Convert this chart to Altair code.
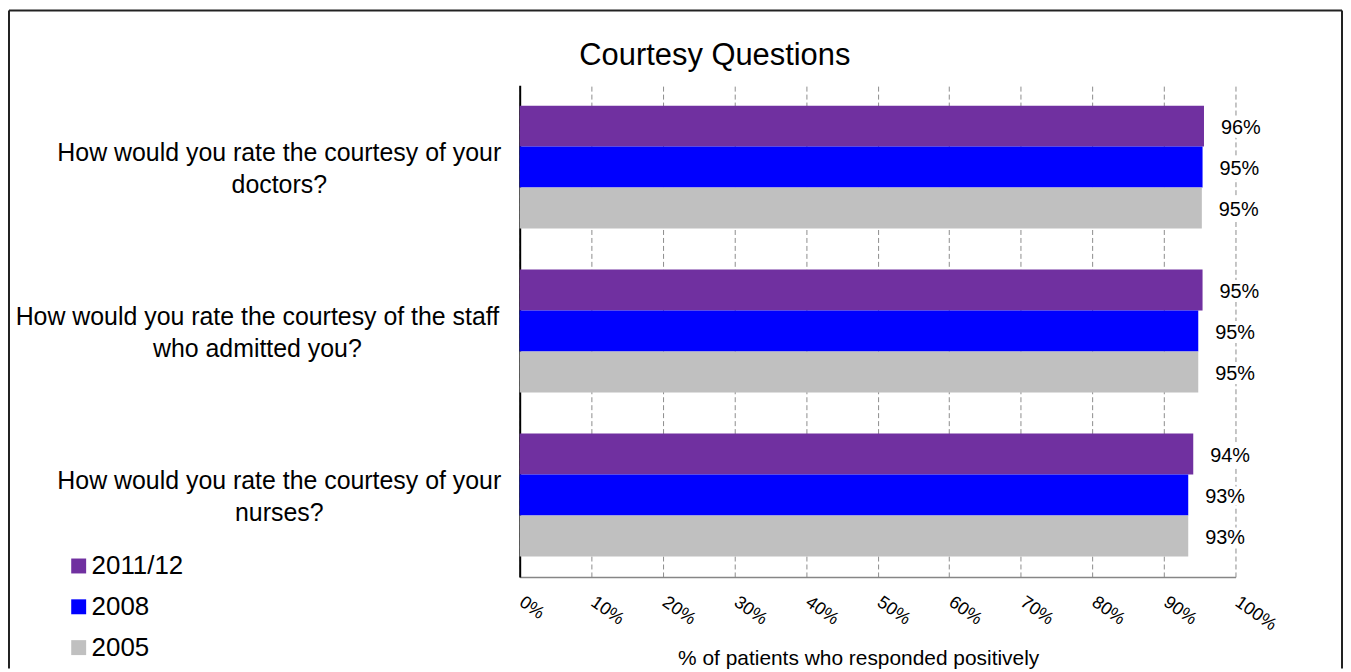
import altair as alt
import pandas as pd

questions = [
    "How would you rate the courtesy of your\ndoctors?",
    "How would you rate the courtesy of the staff\nwho admitted you?",
    "How would you rate the courtesy of your\nnurses?",
]
years = ["2011/12", "2008", "2005"]
colors = ["#7030A0", "#0000FF", "#C0C0C0"]
values_2011 = [95.6, 95.4, 94.1]
values_2008 = [95.4, 94.8, 93.4]
values_2005 = [95.3, 94.8, 93.4]
x_ticks = [0, 10, 20, 30, 40, 50, 60, 70, 80, 90, 100]
chart_title = "Courtesy Questions"

rows = []
for yr, vals in zip(years, [values_2011, values_2008, values_2005]):
    for q, v in zip(questions, vals):
        rows.append({"question": q, "year": yr, "value": v})
df = pd.DataFrame(rows)

FONT = "Liberation Sans"

y_enc = alt.Y(
    "question:N",
    sort=questions,
    title=None,
    scale=alt.Scale(paddingInner=0.25, paddingOuter=0.125),
    axis=alt.Axis(
        labelExpr="split(datum.label, '\\n')",
        labelAlign="center",
        labelBaseline="middle",
        labelFontSize=25,
        labelLineHeight=32,
        labelLimit=700,
        labelColor="black",
        labelOffset=-14,
        labelPadding={"condition": {"test": "indexof(datum.value, 'staff') >= 0", "value": 264}, "value": 242},
        ticks=False,
        tickSize=0,
        domainColor="black",
        domainWidth=2,
        grid=False,
    ),
)
yoff_enc = alt.YOffset("year:N", sort=years, scale=alt.Scale(paddingInner=0, paddingOuter=0))
x_enc = alt.X(
    "value:Q",
    title="% of patients who responded positively",
    scale=alt.Scale(domain=[0, 100], nice=False),
    axis=alt.Axis(
        values=x_ticks,
        labelExpr="datum.value + '%'",
        labelAngle=35,
        labelAlign="left",
        labelBaseline="top",
        labelPadding=16,
        labelOffset=6,
        labelFontSize=18,
        labelColor="black",
        labelFlush=False,
        labelOverlap=False,
        ticks=False,
        domainColor="#868686",
        domainWidth=1.5,
        grid=True,
        gridColor="#8c8c8c",
        gridDash=[5, 3],
        gridWidth=1,
        titleFontSize=21,
        titleFontWeight="normal",
        titleColor="black",
        titleX=340,
        titleY=82,
        titleAlign="center",
        titleBaseline="middle",
    ),
)

bars = alt.Chart(df).mark_bar().encode(
    y=y_enc,
    yOffset=yoff_enc,
    x=x_enc,
    color=alt.Color(
        "year:N",
        scale=alt.Scale(domain=years, range=colors),
        legend=alt.Legend(
            title=None,
            orient="none",
            legendX=-456,
            legendY=470,
            symbolType="square",
            symbolSize=225,
            symbolStrokeWidth=0,
            symbolOpacity=1,
            labelFontSize=26,
            labelColor="black",
            rowPadding=15,
            labelOffset=0,
            padding=0,
        ),
    ),
)

label_base = alt.Chart(df).transform_calculate(
    label="format(datum.value, '.0f') + '%'"
).encode(
    y=alt.Y("question:N", sort=questions),
    yOffset=alt.YOffset("year:N", sort=years),
    x=alt.X("value:Q"),
    text="label:N",
)
halo = label_base.mark_text(
    align="left", baseline="middle", dx=17, dy=2, fontSize=20,
    color="white", stroke="white", strokeWidth=8,
)
labels = label_base.mark_text(
    align="left", baseline="middle", dx=17, dy=2, fontSize=20, color="black"
)

frame = pd.DataFrame({"k": [0]})
left_border = alt.Chart(frame).mark_rule(color="#222222", strokeWidth=2).encode(
    x=alt.value(-513), y=alt.value(-75), y2=alt.value(586)
)
top_border = alt.Chart(frame).mark_rule(color="#222222", strokeWidth=2).encode(
    x=alt.value(-513), x2=alt.value(826), y=alt.value(-75)
)
right_border = alt.Chart(frame).mark_rule(color="#222222", strokeWidth=2).encode(
    x=alt.value(826), y=alt.value(-75), y2=alt.value(586)
)
title_text = alt.Chart(frame).mark_text(
    text=chart_title, fontSize=31, align="center", baseline="middle", color="black"
).encode(x=alt.value(196), y=alt.value(-29))

chart = alt.layer(
    bars, halo, labels, left_border, top_border, right_border, title_text
).properties(
    width=719,
    height=494,
    padding=0,
).configure(
    font=FONT,
).configure_view(
    strokeWidth=0
)

chart.save("out.html", embed_options={"renderer": "svg", "actions": False})
